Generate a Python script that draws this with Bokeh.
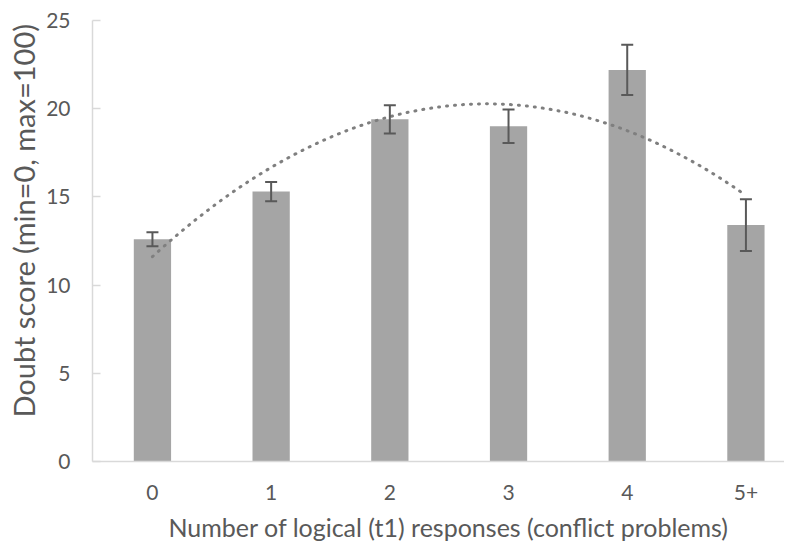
import numpy as np
from bokeh.plotting import figure
from bokeh.models import ColumnDataSource, Whisker, TeeHead, FixedTicker, Range1d, Title
from bokeh.embed import file_html
from bokeh.resources import INLINE

# ---- data ----
categories = ["0", "1", "2", "3", "4", "5+"]
doubt_means = [12.6, 15.3, 19.4, 19.0, 22.2, 13.4]
doubt_errors = [0.4, 0.55, 0.8, 0.95, 1.42, 1.47]
y_ticks = [0, 5, 10, 15, 20, 25]
x_title = "Number of logical (t1) responses (conflict problems)"
y_title = "Doubt score (min=0, max=100)"

positions = list(range(len(categories)))
upper = [m + e for m, e in zip(doubt_means, doubt_errors)]
lower = [m - e for m, e in zip(doubt_means, doubt_errors)]
src = ColumnDataSource(dict(x=positions, top=doubt_means, upper=upper, lower=lower))

# polynomial (order 2) trendline fitted to the bar means
coef = np.polyfit(positions, doubt_means, 2)
tx = np.linspace(positions[0], positions[-1], 200)
ty = np.polyval(coef, tx)

FONT = "Lato"
TEXT = "#595959"
AXIS = "#d9d9d9"

p = figure(width=784, height=549, output_backend="svg", toolbar_location=None,
           x_range=Range1d(-0.505, 5.325), y_range=Range1d(0, 25),
           min_border_left=92, min_border_right=0, min_border_top=20,
           min_border_bottom=88)
p.outline_line_color = None
p.xgrid.grid_line_color = None
p.ygrid.grid_line_color = None
p.background_fill_color = "white"
p.border_fill_color = "white"

p.vbar(x="x", top="top", width=0.314, bottom=0, source=src,
       fill_color="#a5a5a5", line_color=None)

p.line(tx, ty, line_color="#7f7f7f", line_width=3, line_dash="1 7",
       line_cap="round")

w = Whisker(source=src, base="x", upper="upper", lower="lower",
            line_color="#595959", line_width=2, level="overlay",
            upper_head=TeeHead(size=12, line_color="#595959", line_width=2),
            lower_head=TeeHead(size=12, line_color="#595959", line_width=2))
p.add_layout(w)

# x axis
p.xaxis.ticker = FixedTicker(ticks=positions)
p.xaxis.major_label_overrides = {i: c for i, c in zip(positions, categories)}
p.xaxis.major_tick_line_color = None
p.xaxis.minor_tick_line_color = None
p.xaxis.axis_line_color = AXIS
p.xaxis.axis_line_width = 1.5
p.xaxis.major_label_text_font = FONT
p.xaxis.major_label_text_font_size = "21px"
p.xaxis.major_label_text_color = TEXT
p.xaxis.major_label_standoff = 17

# y axis
p.yaxis.ticker = FixedTicker(ticks=y_ticks)
p.yaxis.minor_tick_line_color = None
p.yaxis.axis_line_color = AXIS
p.yaxis.axis_line_width = 1.5
p.yaxis.major_tick_line_color = AXIS
p.yaxis.major_tick_line_width = 1.5
p.yaxis.major_tick_in = 8
p.yaxis.major_tick_out = 0
p.yaxis.major_label_text_font = FONT
p.yaxis.major_label_text_font_size = "21px"
p.yaxis.major_label_text_color = TEXT
p.yaxis.major_label_standoff = 22

# axis titles as Title panels (allow a pixel offset along the axis)
p.add_layout(Title(text=x_title, align="left", offset=76, standoff=15,
                   text_font=FONT, text_font_size="25px",
                   text_font_style="normal", text_color=TEXT), "below")
p.add_layout(Title(text=y_title, align="left", offset=44, standoff=6,
                   text_font=FONT, text_font_size="29px",
                   text_font_style="normal", text_color=TEXT), "left")

open("out.html", "w").write(file_html(p, INLINE))
